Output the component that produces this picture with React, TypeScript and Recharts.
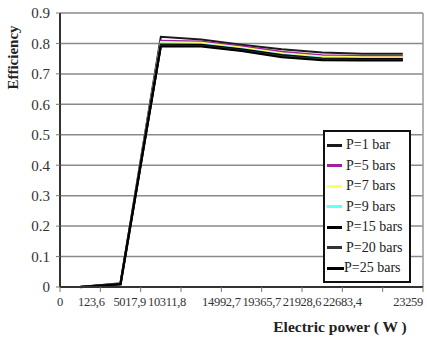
import { LineChart, Line, XAxis, YAxis, CartesianGrid, ReferenceLine } from 'recharts';

// x tick labels (one per tick mark, tick 8 carries no label in the source)
const TICK_LABELS = ['0', '123,6', '5017,9', '10311,8', '14992,7', '19365,7', '21928,6', '22683,4', '', '23259'];

// efficiency per measurement point (9 points, drawn in the middle of each tick interval)
const P1 = [0, 0.012, 0.822, 0.813, 0.796, 0.781, 0.77, 0.766, 0.766];
const P5 = [0, 0.011, 0.809, 0.806, 0.791, 0.773, 0.761, 0.759, 0.759];
const P7 = [0, 0.011, 0.805, 0.802, 0.787, 0.768, 0.757, 0.755, 0.755];
const P9 = [0, 0.01, 0.8, 0.798, 0.783, 0.764, 0.753, 0.751, 0.751];
const P15 = [0, 0.01, 0.796, 0.795, 0.78, 0.761, 0.75, 0.748, 0.748];
const P20 = [0, 0.01, 0.793, 0.792, 0.777, 0.758, 0.748, 0.746, 0.746];
const P25 = [0, 0.009, 0.79, 0.79, 0.775, 0.755, 0.745, 0.744, 0.744];

const SERIES = [
  { key: 'p1', label: 'P=1 bar', values: P1, color: '#1a1a1a', width: 2 },
  { key: 'p5', label: 'P=5 bars', values: P5, color: '#a020a0', width: 2 },
  { key: 'p7', label: 'P=7 bars', values: P7, color: '#ffff66', width: 2 },
  { key: 'p9', label: 'P=9 bars', values: P9, color: '#66ffff', width: 2 },
  { key: 'p15', label: 'P=15 bars', values: P15, color: '#000000', width: 2.5 },
  { key: 'p20', label: 'P=20 bars', values: P20, color: '#333333', width: 2 },
  { key: 'p25', label: 'P=25 bars', values: P25, color: '#000000', width: 2 },
];

const data = P1.map((_, i) => {
  const row: Record<string, number> = { x: i + 0.5 };
  SERIES.forEach((s) => {
    row[s.key] = s.values[i];
  });
  return row;
});

const FONT = "'Liberation Serif', Tinos, 'DejaVu Serif', serif";

// labels in the source are squeezed left where they collide
const LABEL_SHIFT: Record<number, number> = { 1: -9, 2: -11, 3: -14 };

const XTick = (props: any) => {
  const { x, y, payload } = props;
  const idx = payload.value as number;
  const last = idx === TICK_LABELS.length - 1;
  return (
    <text
      x={x + (LABEL_SHIFT[idx] || 0)}
      y={y + 12}
      textAnchor={last ? 'end' : 'middle'}
      style={{ fontFamily: FONT }}
      fontSize={12.5}
      fill="#333"
      letterSpacing={-0.3}
    >
      {TICK_LABELS[idx]}
    </text>
  );
};

const LegendBox = () => (
  <div
    style={{
      position: 'absolute',
      left: 323,
      top: 130,
      border: '2px solid #111',
      background: '#fff',
      width: 84,
      padding: '3px 0 2px 0',
      fontFamily: FONT,
      fontSize: 14,
      color: '#222',
    }}
  >
    {SERIES.map((s, i) => (
      <div key={s.key} style={{ display: 'flex', alignItems: 'center', height: 20.5 }}>
        <span
          style={{
            display: 'inline-block',
            width: i === 6 ? 17 : 15,
            height: 3,
            background: s.color,
            marginLeft: 2,
            marginRight: i === 6 ? 0 : 4,
          }}
        />
        <span style={{ whiteSpace: 'nowrap' }}>{s.label}</span>
      </div>
    ))}
  </div>
);

export default function App() {
  return (
    <div style={{ position: 'absolute', left: 0, top: 0, width: 427, height: 341, background: '#fff' }}>
      <LineChart width={427} height={341} data={data} margin={{ top: 13, right: 4, bottom: 24, left: 0 }}>
        <CartesianGrid vertical={false} stroke="#8a8a8a" strokeWidth={1.5} />
        <ReferenceLine x={9} stroke="#999" strokeWidth={1.5} />
        <XAxis
          dataKey="x"
          type="number"
          domain={[0, 9]}
          ticks={[0, 1, 2, 3, 4, 5, 6, 7, 8, 9]}
          interval={0}
          tick={<XTick />}
          tickSize={5}
          axisLine={{ stroke: '#333', strokeWidth: 2 }}
          tickLine={{ stroke: '#777' }}
          height={30}
        />
        <YAxis
          domain={[0, 0.9]}
          ticks={[0, 0.1, 0.2, 0.3, 0.4, 0.5, 0.6, 0.7, 0.8, 0.9]}
          interval={0}
          width={60}
          tickSize={4}
          tickMargin={6}
          tick={{ fontSize: 15, fill: '#333', style: { fontFamily: FONT } }}
          axisLine={{ stroke: '#333', strokeWidth: 2 }}
          tickLine={{ stroke: '#777' }}
        />
        {SERIES.map((s) => (
          <Line
            key={s.key}
            dataKey={s.key}
            name={s.label}
            stroke={s.color}
            strokeWidth={s.width}
            dot={false}
            isAnimationActive={false}
          />
        ))}
      </LineChart>
      <LegendBox />
      <div
        style={{
          position: 'absolute',
          left: 4,
          top: 28,
          width: 18,
          height: 58,
          display: 'flex',
          alignItems: 'center',
          justifyContent: 'center',
        }}
      >
        <span
          style={{
            transform: 'rotate(-90deg)',
            fontFamily: FONT,
            fontWeight: 'bold',
            fontSize: 15,
            color: '#222',
            whiteSpace: 'nowrap',
          }}
        >
          Efficiency
        </span>
      </div>
      <div
        style={{
          position: 'absolute',
          left: 270,
          top: 318,
          width: 140,
          textAlign: 'center',
          fontFamily: FONT,
          fontWeight: 'bold',
          fontSize: 15.5,
          color: '#222',
          whiteSpace: 'nowrap',
        }}
      >
        Electric power ( W )
      </div>
    </div>
  );
}
